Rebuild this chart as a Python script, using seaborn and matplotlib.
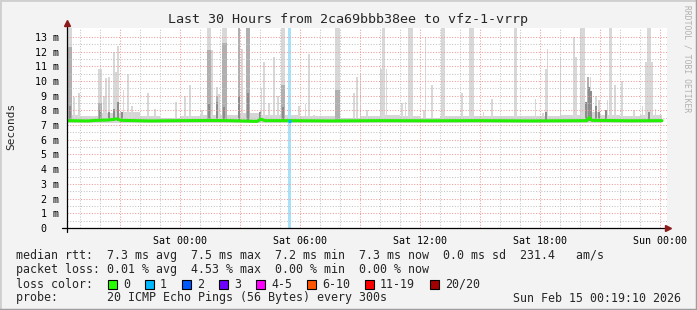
import numpy as np
import pandas as pd
import matplotlib
matplotlib.use("Agg")
import matplotlib.pyplot as plt
from matplotlib.patches import Rectangle
from matplotlib.lines import Line2D
import seaborn as sns

# ---------------- data (hours relative to Sat 00:00, values in ms) ----------------
title = "Last 30 Hours from 2ca69bbb38ee to vfz-1-vrrp"
STEP_H = 5 / 60.0  # one probe round every 300 s

spike_t = [-5.525, -5.30, -5.05, -4.0, -3.8, -3.7, -3.55, -3.3, -3.2, -3.1,
           -2.825, -2.6, -2.4, -1.6, -1.25, -0.2, 0.25, 0.5, 1.1, 1.45,
           1.6, 1.85, 1.95, 2.2, 2.95, 3.1, 3.4, 4.075, 4.2, 4.45,
           4.7, 4.9, 5.15, 5.95, 6.275, 6.45, 6.7, 7.875, 8.7, 8.85,
           9.025, 9.35, 10.05, 10.175, 10.325, 11.1, 11.275, 11.5, 12.2, 12.275,
           12.6, 13.15, 14.1, 14.55, 15.175, 15.6, 16.775, 17.775, 18.15, 18.3,
           18.375, 19.025, 19.7, 19.8, 20.1, 20.4, 20.525, 20.8, 20.95, 21.375,
           21.525, 21.75, 22.1, 22.7, 23.125, 23.3, 23.45, 23.6, 23.775]
spike_n = [3, 1, 1, 2, 1, 1, 1, 1, 1, 1,
           1, 1, 1, 1, 1, 1, 1, 1, 1, 2,
           1, 1, 1, 3, 1, 1, 2, 1, 1, 1,
           1, 1, 2, 1, 1, 1, 1, 3, 1, 1,
           1, 1, 1, 2, 1, 1, 1, 3, 1, 1,
           1, 2, 1, 3, 1, 1, 2, 1, 1, 1,
           1, 1, 1, 1, 3, 1, 1, 1, 1, 1,
           2, 1, 1, 1, 1, 1, 2, 1, 1]
spike_top = [14, 8.9, 9.2, 10.8, 9.0, 10.2, 10.3, 12.0, 10.6, 12.4,
             9.4, 10.5, 8.3, 9.2, 8.1, 8.6, 9.0, 9.7, 8.0, 14,
             12.1, 9.6, 9.1, 14, 14, 12.2, 14, 9.5, 11.3, 8.5,
             11.6, 9.0, 14, 8.3, 8.4, 11.8, 7.7, 14, 9.2, 10.3,
             10.5, 8.0, 10.8, 14, 10.8, 8.5, 8.6, 14, 8.0, 12.9,
             9.7, 14, 9.2, 14, 7.9, 8.8, 14, 8.8, 7.8, 10.8,
             12.2, 11.6, 13.0, 11.6, 14, 10.3, 10.3, 9.0, 8.7, 8.7,
             14, 9.7, 10.0, 8.0, 8.3, 11.3, 14, 11.3, 8.1]
spike_dark = [12.3, 0, 0, 8.5, 0, 0, 0, 0, 0, 8.5,
              0, 0, 0, 0, 0, 0, 0, 0, 0, 12.1,
              0, 9.0, 0, 12.6, 14, 0, 14, 0, 0, 0,
              0, 0, 9.7, 0, 0, 0, 0, 9.4, 0, 0,
              0, 0, 0, 0, 0, 0, 0, 0, 0, 0,
              0, 0, 0, 0, 0, 0, 0, 0, 0, 0,
              0, 0, 0, 0, 0, 10.3, 8.5, 0, 0, 0,
              0, 0, 0, 0, 0, 0, 0, 0, 0]

# darker smoke just above the median (several pings slow)
low_t = [-5.5, -4.0, -3.55, -3.3, -3.1, -2.9, 1.45, 1.85, 2.2, 2.95, 3.4, 4.0,
         5.15, 18.3, 20.3, 20.45, 20.55, 20.8, 20.95, 21.3, 23.45]
low_v = [8.3, 8.0, 7.9, 8.1, 8.6, 7.9, 8.4, 8.6, 8.2, 9.0, 9.2, 7.9,
         8.2, 7.9, 8.6, 9.6, 9.3, 8.3, 7.9, 8.0, 7.9]

median_t = [-5.65, -4.6, -4.2, -3.6, -3.15, -2.95, -1.5, 0.0, 1.5, 2.5, 3.85, 4.05,
            4.25, 5.5, 7.5, 10.0, 12.5, 15.0, 17.5, 20.35, 20.45, 20.6, 22.5, 24.1]
median_v = [7.30, 7.28, 7.32, 7.34, 7.42, 7.32, 7.28, 7.30, 7.31, 7.30, 7.25, 7.40,
            7.30, 7.30, 7.28, 7.30, 7.29, 7.30, 7.28, 7.30, 7.50, 7.32, 7.29, 7.30]

base_t = [-5.65, -5, -4, -3, -2, -1, 0, 1, 2, 3, 4, 5, 6, 7, 8, 9, 10, 11, 12,
          13, 14, 15, 16, 17, 18, 19, 20, 21, 22, 23, 24.1]
base_hi = [7.7, 7.6, 7.8, 7.9, 7.6, 7.5, 7.6, 7.7, 7.7, 7.8, 7.7, 7.7, 7.6, 7.6,
           7.5, 7.6, 7.7, 7.6, 7.5, 7.6, 7.6, 7.6, 7.6, 7.6, 7.6, 7.7, 7.9, 7.7,
           7.6, 7.7, 7.7]
base_lo = 7.12
median_level = 7.3

loss_t = [5.475]
loss_n = [2]

xtick_hours = [0, 6, 12, 18, 24]
xtick_labels = ["Sat 00:00", "Sat 06:00", "Sat 12:00", "Sat 18:00", "Sun 00:00"]
ytick_vals = list(range(14))
ytick_labels = ["0  "] + ["%d m" % v for v in range(1, 14)]

loss_labels = ["0", "1", "2", "3", "4-5", "6-10", "11-19", "20/20"]
loss_colors = ["#26ff00", "#00b8ff", "#0059ff", "#6f00ff", "#ff00ff",
               "#ff5500", "#ff0000", "#a10000"]

stats_rtt = "median rtt:  7.3 ms avg  7.5 ms max  7.2 ms min  7.3 ms now  0.0 ms sd  231.4   am/s"
stats_loss = "packet loss: 0.01 % avg  4.53 % max  0.00 % min  0.00 % now"
probe_txt = "probe:       20 ICMP Echo Pings (56 Bytes) every 300s"
stamp_txt = "Sun Feb 15 00:19:10 2026"

# ---------------- figure ----------------
W, H = 697, 310
sns.set_style("white")
plt.rcParams["font.family"] = ["DejaVu Sans Mono"]
fig = plt.figure(figsize=(W / 100, H / 100), dpi=100, facecolor="#f3f3f3")

def fx(x):
    return x / W

def fy(y):
    return 1 - y / H

X0, X1, Y0, Y1 = 67, 667, 28, 228
ax = fig.add_axes([fx(X0), fy(Y1), fx(X1) - fx(X0), fy(Y0) - fy(Y1)])
ax.set_facecolor("white")
XL = (-5.65, 24.35)
YL = (0, 13.6)
ax.set_xlim(*XL)
ax.set_ylim(*YL)

# base smoke band around the median
ax.fill_between(base_t, base_lo, base_hi, step="post", color="#d6d6d6", lw=0, zorder=1)

# smoke spikes
widths = [n * STEP_H for n in spike_n]
ax.bar(spike_t, [t - median_level for t in spike_top], width=widths, bottom=median_level,
       color="#d8d8d8", linewidth=0, zorder=1.1, antialiased=False)
dk = [(t, d, w) for t, d, w in zip(spike_t, spike_dark, widths) if d > 0]
ax.bar([a[0] for a in dk], [a[1] - median_level for a in dk], width=[a[2] for a in dk],
       bottom=median_level, color="#b0b0b0", linewidth=0, zorder=1.2, antialiased=False)
ax.bar(low_t, [v - median_level for v in low_v], width=STEP_H, bottom=median_level,
       color="#8c8c8c", linewidth=0, zorder=1.25, antialiased=False)

# loss band
ax.bar(loss_t, YL[1], width=[n * STEP_H for n in loss_n], bottom=0,
       color="#a9e2f8", linewidth=0, zorder=1.3, antialiased=False)

# grid
ax.set_xticks([h for h in range(-3, 25, 3)])
ax.set_xticklabels([xtick_labels[xtick_hours.index(h)] if h in xtick_hours else ""
                    for h in range(-3, 25, 3)])
ax.set_xticks(list(range(-5, 25)), minor=True)
ax.set_yticks(ytick_vals)
ax.set_yticklabels(ytick_labels)
ax.set_yticks([v + 0.5 for v in range(13)], minor=True)
ax.set_axisbelow(False)
ax.grid(True, which="minor", color="#c4c4c4", linestyle=(0, (1, 1.6)), linewidth=0.75)
ax.grid(True, which="major", color="#f09a9a", linestyle=(0, (1, 1.6)), linewidth=0.75)
for gl in ax.get_xgridlines() + ax.get_ygridlines():
    gl.set_zorder(2)

# median line
dfm = pd.DataFrame({"t": median_t, "v": median_v})
sns.lineplot(data=dfm, x="t", y="v", ax=ax, color="#22f000", linewidth=2.2,
             zorder=3, sort=True, estimator=None)
# loss-coloured median segment
for t, n in zip(loss_t, loss_n):
    half = n * STEP_H / 2
    ax.plot([t - half, t + half], [median_level, median_level], color="#00b8ff",
            lw=2.2, zorder=3.1, solid_capstyle="butt")

ax.set_xlabel("")
ax.set_ylabel("")
for s in ax.spines.values():
    s.set_visible(False)
ax.tick_params(axis="both", which="both", labelsize=7.2, colors="#000000")
ax.tick_params(axis="x", which="major", length=2.5, width=0.8, color="#e08080", pad=3)
ax.tick_params(axis="x", which="minor", length=2, width=0.8, color="#bbbbbb")
ax.tick_params(axis="y", which="major", length=2.5, width=0.8, color="#999999", pad=3)
ax.tick_params(axis="y", which="minor", length=0)

# axis lines with arrows
ax.plot([XL[0] - 0.25, XL[1] + 0.05], [0, 0], color="black", lw=0.9,
        clip_on=False, zorder=4)
ax.plot([XL[0], XL[0]], [-0.25, YL[1] + 0.35], color="black", lw=0.9,
        clip_on=False, zorder=4)
ax.plot([XL[1] + 0.05], [0], marker=">", ms=4, color="#8b1a1a", clip_on=False, zorder=5)
ax.plot([XL[0]], [YL[1] + 0.35], marker="^", ms=4, color="#8b1a1a", clip_on=False, zorder=5)

# texts
fig.text(0.5, fy(19), title, ha="center", va="center", fontsize=9.6)
fig.text(fx(11), fy(126), "Seconds", rotation=90, ha="center", va="center", fontsize=8)
fig.text(fx(687), fy(5), "RRDTOOL / TOBI OETIKER", rotation=270, ha="center",
         va="top", fontsize=5.8, color="#b0b0b0")

FS = 8.4
fig.text(fx(16), fy(255), stats_rtt, ha="left", va="center", fontsize=FS)
fig.text(fx(16), fy(269), stats_loss, ha="left", va="center", fontsize=FS)
fig.text(fx(16), fy(284), "loss color:", ha="left", va="center", fontsize=FS)
xpos = 108
for lab, col in zip(loss_labels, loss_colors):
    fig.patches.append(Rectangle((fx(xpos), fy(288.5)), fx(9), 9 / H, facecolor=col,
                                 edgecolor="black", linewidth=0.8,
                                 transform=fig.transFigure, figure=fig))
    fig.text(fx(xpos + 15), fy(284), lab, ha="left", va="center", fontsize=FS)
    xpos += 30 + 7 * len(lab)
fig.text(fx(16), fy(298), probe_txt, ha="left", va="center", fontsize=FS)
fig.text(fx(681), fy(298), stamp_txt, ha="right", va="center", fontsize=FS)

# frame shading
fig.add_artist(Line2D([0, 0, 1], [0, 1, 1], transform=fig.transFigure,
                      color="#cfcfcf", lw=2))
fig.add_artist(Line2D([0, 1, 1], [0, 0, 1], transform=fig.transFigure,
                      color="#9e9e9e", lw=2.5))

fig.savefig("out.png", dpi=100, facecolor=fig.get_facecolor())
